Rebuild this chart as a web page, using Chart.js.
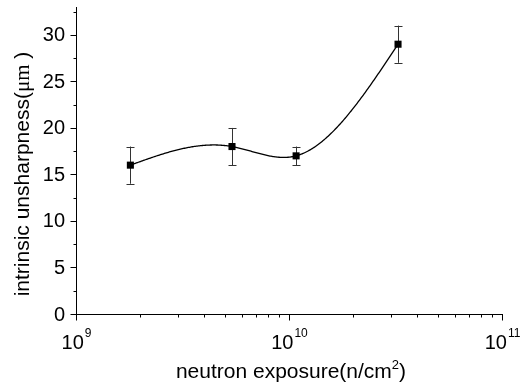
<!DOCTYPE html>
<html>
<head>
<meta charset="utf-8">
<script src="https://cdn.jsdelivr.net/npm/chart.js@4"></script>
<style>
  html, body { margin: 0; padding: 0; background: #fff; }
  #wrap { width: 530px; height: 386px; }
</style>
</head>
<body>
<div id="wrap"><canvas id="chart" width="530" height="386"></canvas></div>
<script>
// data
const exposure = [1.8e9, 5.4e9, 1.08e10, 3.25e10];
const unsharpness = [16, 18, 17, 29];
const errBars = [2, 2, 1, 2];

const yMajorTicks = [0, 5, 10, 15, 20, 25, 30];
const yMinorTicks = [2.5, 7.5, 12.5, 17.5, 22.5, 27.5, 32.5];
const xDecades = [9, 10, 11];

const SANS = '"Liberation Sans", Arial, sans-serif';
const SERIF = '"Liberation Serif", "Times New Roman", serif';

function font(size, fam) {
  return size + "px " + (fam || SANS);
}

// natural cubic spline through pixel points, param = x pixel
function splineDraw(ctx, px, py) {
  const n = px.length;
  const h = [], al = [], l = [1], mu = [0], z = [0];
  for (let i = 0; i < n - 1; i++) h.push(px[i + 1] - px[i]);
  for (let i = 1; i < n - 1; i++) {
    al[i] = (3 / h[i]) * (py[i + 1] - py[i]) - (3 / h[i - 1]) * (py[i] - py[i - 1]);
  }
  for (let i = 1; i < n - 1; i++) {
    l[i] = 2 * (px[i + 1] - px[i - 1]) - h[i - 1] * mu[i - 1];
    mu[i] = h[i] / l[i];
    z[i] = (al[i] - h[i - 1] * z[i - 1]) / l[i];
  }
  const c = new Array(n).fill(0), b = [], d = [];
  for (let j = n - 2; j >= 0; j--) {
    c[j] = j === 0 ? 0 : z[j] - mu[j] * c[j + 1];
    b[j] = (py[j + 1] - py[j]) / h[j] - (h[j] * (c[j + 1] + 2 * c[j])) / 3;
    d[j] = (c[j + 1] - c[j]) / (3 * h[j]);
  }
  ctx.beginPath();
  ctx.moveTo(px[0], py[0]);
  for (let j = 0; j < n - 1; j++) {
    for (let t = 0; t <= h[j]; t += 1) {
      ctx.lineTo(px[j] + t, py[j] + b[j] * t + c[j] * t * t + d[j] * t * t * t);
    }
  }
  ctx.lineTo(px[n - 1], py[n - 1]);
  ctx.stroke();
}

const decorPlugin = {
  id: "decor",
  beforeDatasetsDraw(chart) {
    const { ctx, scales: { x, y } } = chart;
    const px = exposure.map((v) => x.getPixelForValue(v));
    const py = unsharpness.map((v) => y.getPixelForValue(v));

    ctx.save();
    // error bars
    ctx.strokeStyle = "#333";
    ctx.lineWidth = 1;
    exposure.forEach((v, i) => {
      const cx = Math.round(px[i]) + 0.5;
      const top = y.getPixelForValue(unsharpness[i] + errBars[i]);
      const bot = y.getPixelForValue(unsharpness[i] - errBars[i]);
      ctx.beginPath();
      ctx.moveTo(cx, top);
      ctx.lineTo(cx, bot);
      ctx.moveTo(cx - 4, Math.round(top) + 0.5);
      ctx.lineTo(cx + 4, Math.round(top) + 0.5);
      ctx.moveTo(cx - 4, Math.round(bot) + 0.5);
      ctx.lineTo(cx + 4, Math.round(bot) + 0.5);
      ctx.stroke();
    });
    // spline curve
    ctx.strokeStyle = "#000";
    ctx.lineWidth = 1.3;
    splineDraw(ctx, px, py);
    ctx.restore();
  },
  afterDraw(chart) {
    const { ctx, chartArea: a, scales: { x, y } } = chart;
    ctx.save();
    ctx.strokeStyle = "#000";
    ctx.fillStyle = "#000";
    ctx.lineWidth = 1;

    // y ticks (outside, left)
    const yl = Math.round(a.left) + 0.5;
    ctx.beginPath();
    yMajorTicks.forEach((v) => {
      const p = Math.round(y.getPixelForValue(v)) + 0.5;
      ctx.moveTo(yl, p);
      ctx.lineTo(yl - 6, p);
    });
    yMinorTicks.forEach((v) => {
      const p = Math.round(y.getPixelForValue(v)) + 0.5;
      ctx.moveTo(yl, p);
      ctx.lineTo(yl - 3, p);
    });
    // x ticks (outside, down)
    const xb = Math.round(a.bottom) + 0.5;
    for (let e = xDecades[0]; e < xDecades[xDecades.length - 1]; e++) {
      for (let k = 2; k <= 9; k++) {
        const p = Math.round(x.getPixelForValue(k * Math.pow(10, e))) + 0.5;
        ctx.moveTo(p, xb);
        ctx.lineTo(p, xb + 3);
      }
    }
    xDecades.forEach((e) => {
      const p = Math.round(x.getPixelForValue(Math.pow(10, e))) + 0.5;
      ctx.moveTo(p, xb);
      ctx.lineTo(p, xb + 6);
    });
    ctx.stroke();

    // y tick labels
    ctx.font = font(20);
    ctx.textAlign = "right";
    ctx.textBaseline = "middle";
    yMajorTicks.forEach((v) => {
      ctx.fillText(String(v), a.left - 11, y.getPixelForValue(v) + 1);
    });

    // x tick labels: 10 with superscript exponent
    ctx.textBaseline = "alphabetic";
    ctx.textAlign = "left";
    xDecades.forEach((e) => {
      const p = x.getPixelForValue(Math.pow(10, e));
      ctx.font = font(20);
      const wb = ctx.measureText("10").width;
      ctx.font = font(12);
      const ws = ctx.measureText(String(e)).width;
      const x0 = p - (wb + ws) / 2;
      ctx.font = font(20);
      ctx.fillText("10", x0, a.bottom + 35);
      ctx.font = font(12);
      ctx.fillText(String(e), x0 + wb + 1, a.bottom + 23);
    });

    // x title
    const parts = [
      { t: "neutron exposure(n/cm", f: font(21), dy: 0 },
      { t: "2", f: font(13), dy: -9 },
      { t: ")", f: font(21), dy: 0 },
    ];
    let total = 0;
    parts.forEach((s) => { ctx.font = s.f; s.w = ctx.measureText(s.t).width; total += s.w; });
    let cx = (a.left + a.right) / 2 - total / 2 + 2;
    parts.forEach((s) => {
      ctx.font = s.f;
      ctx.fillText(s.t, cx, 378 + s.dy);
      cx += s.w;
    });

    // y title (rotated)
    const yparts = [
      { t: "intrinsic unsharpness(", f: font(21) },
      { t: "\u03bcm", f: font(21, SERIF) },
      { t: " )", f: font(21) },
    ];
    total = 0;
    yparts.forEach((s) => { ctx.font = s.f; s.w = ctx.measureText(s.t).width; total += s.w; });
    ctx.translate(29, 174);
    ctx.rotate(-Math.PI / 2);
    cx = -total / 2;
    yparts.forEach((s) => {
      ctx.font = s.f;
      ctx.fillText(s.t, cx, 0);
      cx += s.w;
    });
    ctx.restore();
  },
};

new Chart(document.getElementById("chart"), {
  type: "line",
  data: {
    datasets: [
      {
        label: "unsharpness",
        data: exposure.map((v, i) => ({ x: v, y: unsharpness[i] })),
        showLine: false,
        pointStyle: "rect",
        pointRadius: 5,
        pointBackgroundColor: "#000",
        pointBorderColor: "#000",
        pointBorderWidth: 0,
      },
    ],
  },
  options: {
    responsive: false,
    animation: false,
    layout: { padding: { left: 76, right: 28, top: 7, bottom: 72 } },
    plugins: { legend: { display: false }, tooltip: { enabled: false } },
    scales: {
      x: {
        type: "logarithmic",
        min: 1e9,
        max: 1e11,
        ticks: { display: false },
        grid: { display: false, drawTicks: false },
        border: { display: true, color: "#000", width: 1 },
      },
      y: {
        type: "linear",
        min: 0,
        max: 33,
        ticks: { display: false },
        grid: { display: false, drawTicks: false },
        border: { display: true, color: "#000", width: 1 },
      },
    },
  },
  plugins: [decorPlugin],
});
</script>
</body>
</html>
